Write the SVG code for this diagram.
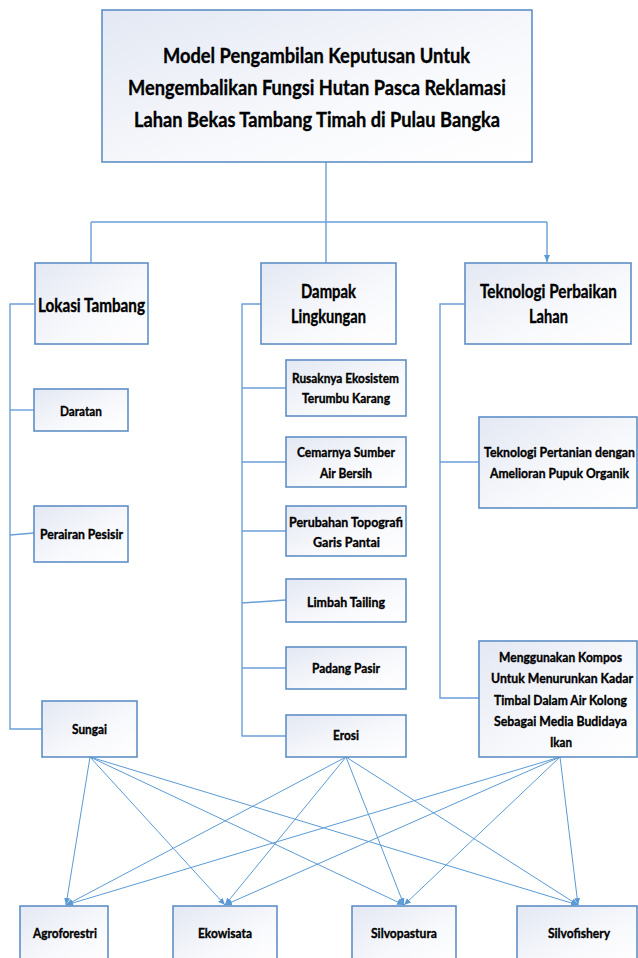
<svg xmlns="http://www.w3.org/2000/svg" width="638" height="958" viewBox="0 0 638 958">
<defs>
<linearGradient id="bg" x1="0" y1="0" x2="1" y2="1">
<stop offset="0" stop-color="#e3e8f3"/>
<stop offset="0.6" stop-color="#f8f9fc"/>
<stop offset="1" stop-color="#ffffff"/>
</linearGradient>
<marker id="ah" markerWidth="8" markerHeight="8" refX="7" refY="4" orient="auto" markerUnits="userSpaceOnUse">
<path d="M0,1 L7,4 L0,7 Z" fill="#5b9bd5"/>
</marker>
</defs>
<style>
.box{fill:url(#bg);stroke:#5f8fc6;stroke-width:1.6}
.ln{fill:none;stroke:#6a9fd8;stroke-width:1.4}
.ar{fill:none;stroke:#5b9bd5;stroke-width:1}
text{font-family:Lato,"Liberation Sans",sans-serif;font-weight:bold;fill:#000;stroke:#000;stroke-width:0.35}
.t{font-size:21px}
.h{font-size:18px}
.s{font-size:14px}
</style>
<rect width="638" height="958" fill="#fff"/>
<g id="connectors">
<path class="ln" d="M326,162 V263"/>
<path class="ln" d="M91,222 H547"/>
<path class="ln" d="M91,222 V263"/>
<path class="ln" d="M547,222 V262" marker-end="url(#ah)"/>
<path class="ln" d="M35,304 H10 V729 H42"/>
<path class="ln" d="M10,410 H34"/>
<path class="ln" d="M10,535 L34,533"/>
<path class="ln" d="M261,304 H242 V736 H286"/>
<path class="ln" d="M242,388 H286"/>
<path class="ln" d="M242,462 H286"/>
<path class="ln" d="M242,531 H286"/>
<path class="ln" d="M242,603 L286,600"/>
<path class="ln" d="M242,668 H286"/>
<path class="ln" d="M465,304 H440 V698 H479"/>
<path class="ln" d="M440,462 H479"/>
<g>
<line class="ar" x1="90" y1="757" x2="66" y2="905" marker-end="url(#ah)"/>
<line class="ar" x1="90" y1="757" x2="225" y2="905" marker-end="url(#ah)"/>
<line class="ar" x1="90" y1="757" x2="404" y2="905" marker-end="url(#ah)"/>
<line class="ar" x1="90" y1="757" x2="578" y2="905" marker-end="url(#ah)"/>
<line class="ar" x1="346" y1="757" x2="66" y2="905" marker-end="url(#ah)"/>
<line class="ar" x1="346" y1="757" x2="225" y2="905" marker-end="url(#ah)"/>
<line class="ar" x1="346" y1="757" x2="404" y2="905" marker-end="url(#ah)"/>
<line class="ar" x1="346" y1="757" x2="578" y2="905" marker-end="url(#ah)"/>
<line class="ar" x1="560" y1="757" x2="66" y2="905" marker-end="url(#ah)"/>
<line class="ar" x1="560" y1="757" x2="225" y2="905" marker-end="url(#ah)"/>
<line class="ar" x1="560" y1="757" x2="404" y2="905" marker-end="url(#ah)"/>
<line class="ar" x1="560" y1="757" x2="578" y2="905" marker-end="url(#ah)"/>
</g>
</g>
<g id="root">
<rect class="box" x="102" y="10" width="430" height="152"/>
<text class="t" x="163" y="63" textLength="307" lengthAdjust="spacingAndGlyphs">Model Pengambilan Keputusan Untuk</text>
<text class="t" x="128" y="95" textLength="378" lengthAdjust="spacingAndGlyphs">Mengembalikan Fungsi Hutan Pasca Reklamasi</text>
<text class="t" x="134" y="127" textLength="366" lengthAdjust="spacingAndGlyphs">Lahan Bekas Tambang Timah di Pulau Bangka</text>
</g>
<g id="lokasi">
<rect class="box" x="35" y="263" width="113" height="81"/>
<text class="h" x="38" y="312" textLength="107" lengthAdjust="spacingAndGlyphs">Lokasi Tambang</text>
</g>
<g id="dampak">
<rect class="box" x="261" y="263" width="135" height="81"/>
<text class="h" x="301" y="298" textLength="55" lengthAdjust="spacingAndGlyphs">Dampak</text>
<text class="h" x="291" y="323" textLength="75" lengthAdjust="spacingAndGlyphs">Lingkungan</text>
</g>
<g id="teknologi">
<rect class="box" x="465" y="263" width="166" height="81"/>
<text class="h" x="480" y="298" textLength="137" lengthAdjust="spacingAndGlyphs">Teknologi Perbaikan</text>
<text class="h" x="529" y="323" textLength="39" lengthAdjust="spacingAndGlyphs">Lahan</text>
</g>
<g id="daratan">
<rect class="box" x="34" y="389" width="94" height="42"/>
<text class="s" x="60" y="416" textLength="42" lengthAdjust="spacingAndGlyphs">Daratan</text>
</g>
<g id="perairan">
<rect class="box" x="34" y="506" width="94" height="56"/>
<text class="s" x="40" y="539" textLength="83" lengthAdjust="spacingAndGlyphs">Perairan Pesisir</text>
</g>
<g id="sungai">
<rect class="box" x="42" y="701" width="95" height="56"/>
<text class="s" x="72" y="734" textLength="35" lengthAdjust="spacingAndGlyphs">Sungai</text>
</g>
<g id="rusaknya">
<rect class="box" x="286" y="360" width="120" height="56"/>
<text class="s" x="292" y="383" textLength="107" lengthAdjust="spacingAndGlyphs">Rusaknya Ekosistem</text>
<text class="s" x="302" y="403" textLength="88" lengthAdjust="spacingAndGlyphs">Terumbu Karang</text>
</g>
<g id="cemarnya">
<rect class="box" x="286" y="437" width="120" height="50"/>
<text class="s" x="297" y="457" textLength="98" lengthAdjust="spacingAndGlyphs">Cemarnya Sumber</text>
<text class="s" x="320" y="478" textLength="52" lengthAdjust="spacingAndGlyphs">Air Bersih</text>
</g>
<g id="perubahan">
<rect class="box" x="286" y="506" width="120" height="50"/>
<text class="s" x="289" y="527" textLength="114" lengthAdjust="spacingAndGlyphs">Perubahan Topografi</text>
<text class="s" x="313" y="547" textLength="67" lengthAdjust="spacingAndGlyphs">Garis Pantai</text>
</g>
<g id="limbah">
<rect class="box" x="286" y="579" width="120" height="43"/>
<text class="s" x="307" y="607" textLength="78" lengthAdjust="spacingAndGlyphs">Limbah Tailing</text>
</g>
<g id="padang">
<rect class="box" x="286" y="647" width="120" height="42"/>
<text class="s" x="312" y="673" textLength="68" lengthAdjust="spacingAndGlyphs">Padang Pasir</text>
</g>
<g id="erosi">
<rect class="box" x="286" y="715" width="120" height="42"/>
<text class="s" x="333" y="740" textLength="26" lengthAdjust="spacingAndGlyphs">Erosi</text>
</g>
<g id="pertanian">
<rect class="box" x="479" y="417" width="158" height="91"/>
<text class="s" x="484" y="457" textLength="151" lengthAdjust="spacingAndGlyphs">Teknologi Pertanian dengan</text>
<text class="s" x="490" y="478" textLength="139" lengthAdjust="spacingAndGlyphs">Amelioran Pupuk Organik</text>
</g>
<g id="kompos">
<rect class="box" x="479" y="641" width="158" height="116"/>
<text class="s" x="499" y="662" textLength="123" lengthAdjust="spacingAndGlyphs">Menggunakan Kompos</text>
<text class="s" x="491" y="683" textLength="142" lengthAdjust="spacingAndGlyphs">Untuk Menurunkan Kadar</text>
<text class="s" x="494" y="705" textLength="133" lengthAdjust="spacingAndGlyphs">Timbal Dalam Air Kolong</text>
<text class="s" x="494" y="726" textLength="133" lengthAdjust="spacingAndGlyphs">Sebagai Media Budidaya</text>
<text class="s" x="550" y="747" textLength="22" lengthAdjust="spacingAndGlyphs">Ikan</text>
</g>
<g id="agroforestri">
<rect class="box" x="20" y="906" width="88" height="60"/>
<text class="s" x="33" y="938" textLength="64" lengthAdjust="spacingAndGlyphs">Agroforestri</text>
</g>
<g id="ekowisata">
<rect class="box" x="173" y="906" width="104" height="60"/>
<text class="s" x="198" y="938" textLength="54" lengthAdjust="spacingAndGlyphs">Ekowisata</text>
</g>
<g id="silvopastura">
<rect class="box" x="352" y="906" width="104" height="60"/>
<text class="s" x="371" y="938" textLength="66" lengthAdjust="spacingAndGlyphs">Silvopastura</text>
</g>
<g id="silvofishery">
<rect class="box" x="517" y="906" width="120" height="60"/>
<text class="s" x="548" y="938" textLength="62" lengthAdjust="spacingAndGlyphs">Silvofishery</text>
</g>
</svg>
